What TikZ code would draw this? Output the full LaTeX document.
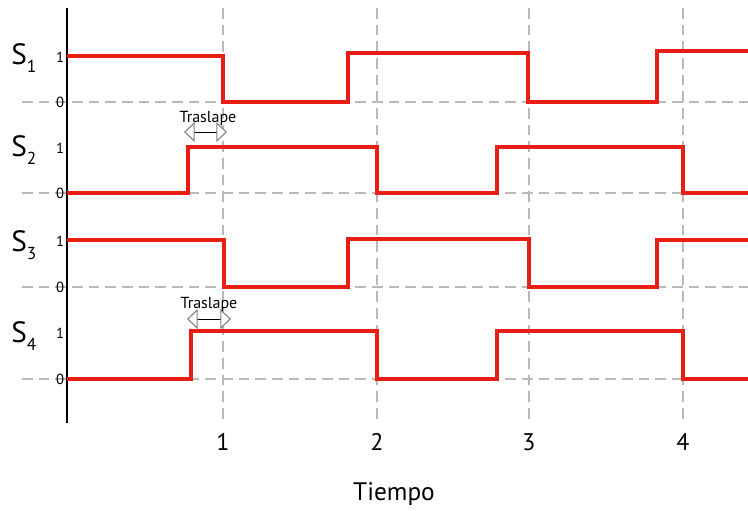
\documentclass[tikz,border=0pt]{standalone}
\usepackage{fontspec}
\setmainfont{PT Sans}
\usetikzlibrary{arrows.meta}
\definecolor{sig}{RGB}{232,30,20}
\definecolor{grid}{RGB}{185,185,185}
\newcommand{\sig}[1]{S\raisebox{-6pt}{\fontsize{13}{14}\selectfont #1}}
\begin{document}
\begin{tikzpicture}[x=0.75pt,y=-0.75pt,
  sigline/.style={draw=sig,line width=2.6pt},
  gridline/.style={draw=grid,line width=1.4pt,dash pattern=on 8pt off 4.5pt},
  lvl/.style={font=\fontsize{11}{12}\selectfont,inner sep=0pt},
  sname/.style={font=\fontsize{22}{24}\selectfont,inner sep=0pt,anchor=west},
  tick/.style={font=\fontsize{18}{20}\selectfont,inner sep=0pt},
  ovl/.style={font=\fontsize{12}{13}\selectfont,inner sep=0pt},
  ovarrow/.style={draw=black,line width=0.7pt,{Triangle[length=8pt,width=15pt,fill=white,color=gray,line width=0.8pt]}-{Triangle[length=8pt,width=15pt,fill=white,color=gray,line width=0.8pt]}}]
\useasboundingbox (0,0) rectangle (748,510);
% grid
\foreach \x in {223,377,529,683}{\draw[gridline] (\x,8) -- (\x,422);}
\foreach \y in {102,193,287,379}{\draw[gridline] (22,\y) -- (748,\y);}
% axis
\coordinate (atop) at (67,8);
\coordinate (abot) at (67,423);
\draw[line width=1.8pt] (atop) -- (abot);
% signals
\draw[sigline] (67,56) -- (223,56) -- (223,102) -- (348,102) -- (348,53) -- (528,53) -- (528,102) -- (657,102) -- (657,51) -- (748,51);
\draw[sigline] (67,193) -- (188,193) -- (188,147) -- (377,147) -- (377,193) -- (497,193) -- (497,147) -- (683,147) -- (683,193) -- (748,193);
\draw[sigline] (67,240) -- (224,240) -- (224,287) -- (348,287) -- (348,239) -- (529,239) -- (529,287) -- (657,287) -- (657,240) -- (748,240);
\draw[sigline] (67,379) -- (191,379) -- (191,331) -- (377,331) -- (377,379) -- (497,379) -- (497,331) -- (683,331) -- (683,379) -- (748,379);
% labels
\node[sname] (s1) at (11,58) {\sig{1}};
\node[sname] (s2) at (11,150) {\sig{2}};
\node[sname] (s3) at (11,245) {\sig{3}};
\node[sname] (s4) at (11,336) {\sig{4}};
\node[lvl] (h1) at (60,57) {1};
\node[lvl] (l1) at (60,102) {0};
\node[lvl] (h2) at (60,148) {1};
\node[lvl] (l2) at (60,193) {0};
\node[lvl] (h3) at (60,241) {1};
\node[lvl] (l3) at (60,287) {0};
\node[lvl] (h4) at (60,333) {1};
\node[lvl] (l4) at (60,379) {0};
% ticks
\node[tick] (t1) at (223,442) {1};
\node[tick] (t2) at (377,442) {2};
\node[tick] (t3) at (529,442) {3};
\node[tick] (t4) at (683,442) {4};
\node[font=\fontsize{19}{21}\selectfont,inner sep=0pt] (tiempo) at (394,494) {Tiempo};
% overlaps
\node[ovl] (o1) at (208,118) {Traslape};
\coordinate (o1a) at (184,132);
\coordinate (o1b) at (227,132);
\draw[ovarrow] (o1a) -- (o1b);
\node[ovl] (o2) at (209,304) {Traslape};
\coordinate (o2a) at (187,319);
\coordinate (o2b) at (231,319);
\draw[ovarrow] (o2a) -- (o2b);
\end{tikzpicture}
\end{document}
